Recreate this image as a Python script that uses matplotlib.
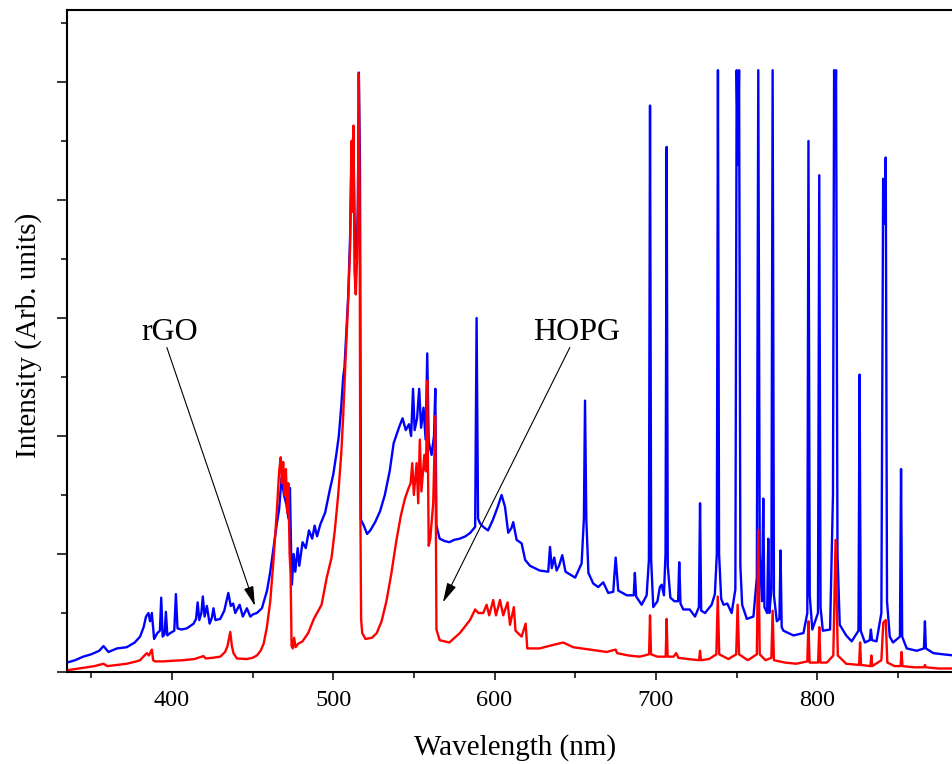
import matplotlib
matplotlib.use("Agg")
import matplotlib.pyplot as plt
import numpy as np
from matplotlib.ticker import MultipleLocator, NullFormatter

# spectra, (wavelength nm, intensity arb.)
# one y unit = one major tick on the intensity axis
rgo_points = [
    (335, 0.08), (340, 0.1), (345, 0.13), (350, 0.15), (355, 0.18), (357.6, 0.22),
    (360.7, 0.17), (366, 0.2), (372, 0.21), (377, 0.25), (380.3, 0.3), (382.5, 0.38),
    (384, 0.47), (385.5, 0.5), (386.5, 0.43), (387.6, 0.5), (389, 0.28), (391, 0.33),
    (392.6, 0.35), (393.4, 0.63), (394.3, 0.3), (395.5, 0.32), (396.3, 0.51), (397.2, 0.31),
    (399, 0.33), (401.5, 0.35), (402.5, 0.66), (403.5, 0.37), (406, 0.36), (409.3, 0.37),
    (413.5, 0.41), (415, 0.45), (416, 0.59), (417, 0.44), (418.3, 0.5), (419.2, 0.64),
    (420.3, 0.47), (421.7, 0.56), (423.4, 0.41), (424.8, 0.46), (425.8, 0.54), (427, 0.44),
    (430, 0.45), (432.5, 0.52), (434, 0.61), (435, 0.67), (436.5, 0.56), (438, 0.58),
    (439.3, 0.5), (442, 0.57), (444, 0.47), (446.5, 0.54), (448.6, 0.47), (450.5, 0.49),
    (452.7, 0.5), (455.8, 0.54), (459, 0.69), (461, 0.85), (463, 1.05), (465, 1.25),
    (466.5, 1.38), (468, 1.65), (469.5, 1.5), (471, 1.42), (472.3, 1.3), (473.2, 1.56),
    (473.8, 1.1), (474.4, 0.74), (475.5, 1.0), (476.5, 0.85), (478, 1.05), (479, 0.9),
    (481, 1.1), (483, 1.05), (485, 1.2), (487, 1.13), (488.5, 1.24), (490, 1.15),
    (492, 1.25), (495, 1.35), (498, 1.55), (500, 1.67), (502, 1.85), (503.5, 2.0),
    (505, 2.25), (506.2, 2.5), (507, 2.58), (508, 2.84), (509.3, 3.18), (510.5, 3.7),
    (511.4, 4.4), (512.5, 4.55), (513.5, 3.6), (514.5, 3.5), (515.3, 3.95), (515.9, 5.08),
    (516.6, 4.3), (517.2, 1.29), (519, 1.24), (521, 1.17), (523, 1.2), (526, 1.27),
    (529, 1.36), (532, 1.5), (535, 1.7), (537.5, 1.94), (539, 2.0), (541, 2.08),
    (543, 2.15), (545, 2.05), (547, 2.1), (548.3, 2.0), (549.5, 2.4), (550.5, 2.05),
    (552, 2.15), (553.3, 2.4), (554.5, 2.07), (556, 2.24), (557.3, 1.97), (558.3, 2.7),
    (559.2, 1.95), (561, 1.84), (562.5, 2.0), (563.3, 2.4), (564.0, 1.24), (566, 1.13),
    (569, 1.11), (572, 1.1), (575, 1.12), (578.5, 1.13), (582, 1.15), (585, 1.18),
    (588, 1.23), (588.9, 3.0), (589.8, 1.3), (591, 1.26), (593, 1.23), (596, 1.2),
    (599, 1.29), (602, 1.4), (604.4, 1.5), (606.5, 1.4), (608.5, 1.18), (610.5, 1.22),
    (611.6, 1.27), (613.7, 1.12), (616.8, 1.09), (619, 0.95), (622, 0.9), (628, 0.86),
    (633.3, 0.85), (634.4, 1.06), (635.5, 0.88), (637, 0.97), (638.5, 0.86), (640, 0.9),
    (642, 0.99), (644, 0.85), (650, 0.8), (654, 0.92), (655.4, 1.3), (656.1, 2.3),
    (656.9, 1.3), (658.2, 0.84), (661.2, 0.75), (664.3, 0.72), (667.4, 0.76), (670.5, 0.67),
    (673.6, 0.68), (675.1, 0.97), (676.7, 0.69), (682, 0.65), (686.3, 0.65), (687, 0.84),
    (687.8, 0.64), (691.2, 0.57), (694.3, 0.65), (695.7, 0.95), (696.4, 4.8), (697.1, 0.95),
    (698.4, 0.55), (701, 0.6), (702.5, 0.72), (703.6, 0.74), (705, 0.65), (706.0, 1.0),
    (706.7, 4.45), (707.4, 0.9), (709, 0.63), (711.5, 0.6), (713.8, 0.6), (714.5, 0.93),
    (715.3, 0.58), (717, 0.53), (721, 0.53), (724.3, 0.47), (726.7, 0.55), (727.4, 1.43),
    (728.1, 0.52), (730.5, 0.5), (734.6, 0.57), (736.6, 0.66), (737.8, 1.0), (738.5, 5.1),
    (739.2, 1.0), (740.5, 0.62), (742, 0.57), (744.3, 0.58), (747, 0.5), (749.3, 0.7),
    (750.1, 5.1), (750.9, 4.3), (751.6, 5.1), (752.4, 0.9), (753.5, 0.57), (756.4, 0.45),
    (760.5, 0.47), (762.6, 0.8), (763.5, 5.1), (764.4, 1.0), (765.8, 0.6), (766.6, 1.47),
    (767.3, 0.55), (769, 0.5), (769.7, 1.13), (770.4, 0.5), (771.6, 0.7), (772.4, 5.1),
    (773.2, 0.65), (775, 0.43), (776.6, 0.45), (777.3, 1.03), (778, 0.38), (779.1, 0.35),
    (785.3, 0.31), (791.5, 0.33), (793.9, 0.5), (794.6, 4.5), (795.4, 0.65), (797, 0.36),
    (800.5, 0.5), (801.3, 4.21), (802.1, 0.55), (803.5, 0.35), (808, 0.36), (809.8, 1.5),
    (810.5, 5.1), (811.1, 4.6), (811.7, 5.1), (812.6, 1.0), (814, 0.4), (818, 0.31),
    (821.4, 0.26), (825.6, 0.35), (826.3, 2.52), (827, 0.35), (829.6, 0.25), (832.6, 0.27),
    (833.3, 0.36), (834, 0.27), (836.8, 0.26), (839.8, 0.5), (840.9, 4.18), (841.6, 3.8),
    (842.5, 4.36), (843.3, 0.6), (845, 0.3), (847, 0.25), (851.3, 0.3), (852.0, 1.72),
    (852.7, 0.3), (855.5, 0.2), (861.7, 0.18), (866.2, 0.2), (866.8, 0.43), (867.4, 0.2),
    (872, 0.16), (878, 0.15), (885, 0.14),
]

hopg_points = [
    (335, 0.015), (340, 0.025), (347.3, 0.04), (352, 0.05), (357.6, 0.07), (360, 0.05),
    (366, 0.06), (372, 0.07), (378, 0.09), (380.3, 0.1), (383, 0.14), (384.5, 0.16),
    (385.8, 0.14), (387.6, 0.19), (388.4, 0.1), (389.5, 0.09), (395, 0.09), (400, 0.095),
    (407, 0.1), (414, 0.11), (419.6, 0.135), (421, 0.115), (425, 0.12), (430, 0.13),
    (433, 0.17), (434.5, 0.22), (436.2, 0.34), (437.2, 0.22), (438.2, 0.16), (440.3, 0.115),
    (446.5, 0.11), (450, 0.12), (452.7, 0.14), (455, 0.18), (456.9, 0.24), (458.9, 0.38),
    (461, 0.6), (463, 0.95), (465, 1.35), (466.5, 1.7), (467.5, 1.82), (468.2, 1.6),
    (469, 1.78), (469.8, 1.5), (470.7, 1.72), (471.5, 1.35), (472.2, 1.6), (473, 1.0),
    (473.6, 0.83), (474.2, 0.22), (475, 0.2), (475.8, 0.29), (476.7, 0.21), (478.3, 0.24),
    (481, 0.26), (484.5, 0.33), (488, 0.45), (492.8, 0.57), (496, 0.8), (499, 0.97),
    (501, 1.2), (503.1, 1.5), (505, 1.85), (506.2, 2.17), (507.5, 2.6), (508.3, 2.84),
    (509.3, 3.15), (510.5, 3.6), (511.3, 4.5), (511.9, 3.9), (512.6, 4.63), (513.2, 3.4),
    (514, 3.2), (514.8, 3.5), (515.3, 3.9), (515.9, 5.07), (516.4, 4.0), (516.8, 1.5),
    (517.3, 0.45), (518, 0.33), (520, 0.28), (524, 0.29), (527, 0.33), (530, 0.43),
    (533, 0.6), (536, 0.83), (539, 1.1), (542, 1.33), (544.5, 1.47), (546.5, 1.55),
    (548, 1.6), (549, 1.77), (550, 1.5), (551.7, 1.77), (552.7, 1.43), (553.7, 1.97),
    (554.7, 1.53), (556.5, 1.84), (557.5, 1.7), (558.3, 2.47), (559.2, 1.07), (560.2, 1.13),
    (562, 1.43), (563.3, 2.17), (564.0, 0.36), (566, 0.27), (572, 0.25), (578.5, 0.33),
    (584.8, 0.44), (588, 0.53), (590, 0.5), (593, 0.5), (595.1, 0.57), (596.7, 0.48),
    (599.2, 0.61), (600.9, 0.48), (603.4, 0.61), (605.4, 0.48), (608.1, 0.59), (609.6, 0.4),
    (612, 0.55), (613, 0.35), (616.8, 0.3), (619.3, 0.41), (620.3, 0.2), (628, 0.2),
    (636.4, 0.23), (642.6, 0.25), (648.8, 0.21), (659, 0.19), (669.5, 0.17), (675.1, 0.19),
    (676, 0.16), (683, 0.14), (690, 0.13), (695.8, 0.15), (696.4, 0.48), (697.0, 0.15),
    (701, 0.13), (706.1, 0.13), (706.7, 0.45), (707.3, 0.13), (711, 0.13), (712.6, 0.16),
    (714, 0.12), (720, 0.11), (726.8, 0.1), (727.4, 0.18), (728, 0.1), (733, 0.11),
    (737.5, 0.15), (738.4, 0.64), (739.3, 0.15), (745, 0.11), (749.8, 0.15), (750.7, 0.57),
    (751.6, 0.15), (757, 0.1), (762.6, 0.15), (763.5, 1.2), (764.4, 0.15), (768, 0.1),
    (771.6, 0.12), (772.4, 0.52), (773.2, 0.1), (780, 0.08), (787, 0.07), (793.9, 0.09),
    (794.6, 0.43), (795.3, 0.08), (800.6, 0.08), (801.3, 0.38), (802, 0.08), (806, 0.08),
    (810, 0.14), (811.4, 1.12), (812.8, 0.14), (818, 0.07), (826, 0.06), (826.6, 0.25),
    (827.2, 0.06), (833, 0.05), (833.6, 0.14), (834.2, 0.05), (839.8, 0.1), (841, 0.42),
    (842.5, 0.44), (843.5, 0.08), (848, 0.05), (851.7, 0.05), (852.3, 0.17), (852.9, 0.05),
    (860, 0.04), (866.2, 0.04), (866.8, 0.06), (867.4, 0.04), (875, 0.03), (885, 0.03),
]

x_major = [400, 500, 600, 700, 800]
x_minor = [350, 450, 550, 650, 750, 850]

# label text, text position, arrow tail, arrow tip (data coords)
labels = ["rGO", "HOPG"]
label_pos = [(381.4, 2.81), (623.8, 2.81)]
arrow_tail = [(396.9, 2.75), (646.7, 2.75)]
arrow_tip = [(451.5, 0.56), (568.0, 0.59)]

plt.rcParams["font.family"] = ["Liberation Serif", "DejaVu Serif"]

fig = plt.figure(figsize=(9.53, 7.64), dpi=100)
ax = fig.add_axes([0.0703, 0.1204, 0.9297, 0.8665])

rgo = np.array(rgo_points)
hopg = np.array(hopg_points)
ax.plot(rgo[:, 0], rgo[:, 1], color="#0000ff", lw=1.7)
ax.plot(hopg[:, 0], hopg[:, 1], color="#ff0000", lw=1.7)

ax.set_xlim(335, 884.2)
ax.set_ylim(0, 5.61)

ax.set_xticks(x_major)
ax.set_xticks(x_minor, minor=True)
ax.yaxis.set_major_locator(MultipleLocator(1))
ax.yaxis.set_minor_locator(MultipleLocator(0.5))
ax.yaxis.set_major_formatter(NullFormatter())

ax.tick_params(which="both", direction="out", width=1.1, labelsize=17.5)
ax.tick_params(axis="x", which="major", length=6, pad=7)
ax.tick_params(axis="x", which="minor", length=4.5)
ax.tick_params(axis="y", which="major", length=7.2)
ax.tick_params(axis="y", which="minor", length=4.3)

for side in ["left", "bottom", "top"]:
    ax.spines[side].set_linewidth(1.5)
ax.spines["right"].set_visible(False)

for text, pos, tail, tip in zip(labels, label_pos, arrow_tail, arrow_tip):
    ax.text(pos[0], pos[1], text, fontsize=23, ha="left", va="baseline")
    ax.annotate(
        "",
        xy=tip,
        xytext=tail,
        arrowprops=dict(
            arrowstyle="-|>,head_length=0.8,head_width=0.2",
            color="black",
            lw=0.8,
            mutation_scale=15,
            shrinkA=0,
            shrinkB=0,
        ),
    )

fig.text(0.540, 0.012, "Wavelength (nm)", fontsize=21, ha="center", va="baseline")
fig.text(0.0304, 0.5615, "Intensity (Arb. units)", fontsize=21, ha="center",
         va="center", rotation=90)

fig.savefig("out.png", dpi=100)
plt.close(fig)
